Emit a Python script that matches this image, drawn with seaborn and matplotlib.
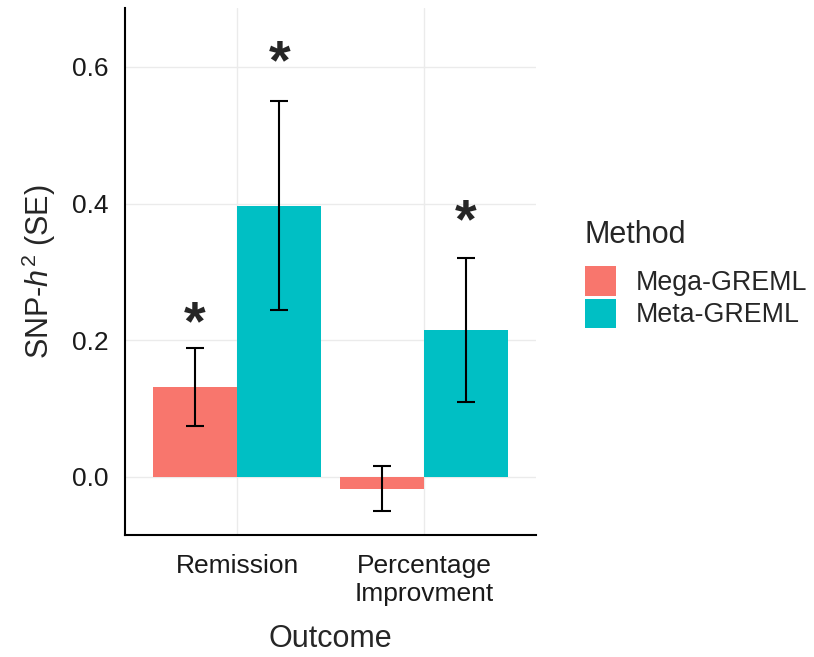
import seaborn as sns
import pandas as pd
import matplotlib.pyplot as plt
from matplotlib.patches import Patch

# Values
outcomes = ["Remission", "Percentage\nImprovment"]
methods = ["Mega-GREML", "Meta-GREML"]
h2_mega = [0.132, -0.017]
h2_meta = [0.397, 0.215]
se_mega = [0.057, 0.033]
se_meta = [0.153, 0.105]
# asterisk heights (None = no star)
star_mega = [0.24, None]
star_meta = [0.622, 0.39]

colors = ["#F8766D", "#00BFC4"]

df = pd.DataFrame({
    "Outcome": outcomes * 2,
    "Method": [methods[0]] * 2 + [methods[1]] * 2,
    "h2": h2_mega + h2_meta,
})

sns.set_style("white")
plt.rcParams["font.family"] = ["Liberation Sans", "DejaVu Sans"]
plt.rcParams["mathtext.fontset"] = "custom"
plt.rcParams["mathtext.rm"] = "Liberation Sans"
plt.rcParams["mathtext.it"] = "Liberation Sans:italic"

fig = plt.figure(figsize=(8.14, 6.57), dpi=100)
ax = fig.add_axes([0.1536, 0.1857, 0.505, 0.802])

sns.barplot(data=df, x="Outcome", y="h2", hue="Method", palette=colors,
            width=0.9, errorbar=None, saturation=1, ax=ax, legend=False,
            zorder=2)

star_size = 40
ses = [se_mega, se_meta]
stars = [star_mega, star_meta]
for cont, se, st in zip(ax.containers, ses, stars):
    for bar, e, s in zip(cont, se, st):
        bar.set_edgecolor("none")
        xc = bar.get_x() + bar.get_width() / 2
        yv = bar.get_y() + bar.get_height()
        ax.errorbar(xc, yv, yerr=e, color="black", capsize=6.5,
                    elinewidth=1.5, capthick=1.5, zorder=3)
        if s is not None:
            # glyph sits high in its box: shift down so the star is centred
            ax.annotate("*", (xc, s), xytext=(0, -0.23 * star_size),
                        textcoords="offset points", ha="center", va="center",
                        fontsize=star_size, fontweight="bold", zorder=4)

ax.set_xlim(-0.6, 1.6)
ax.set_ylim(-0.085, 0.686)
ax.set_yticks([0.0, 0.2, 0.4, 0.6])
ax.set_yticklabels(["0.0", "0.2", "0.4", "0.6"])
ax.grid(True, color="#EBEBEB", linewidth=1.0, zorder=0)
ax.set_axisbelow(True)
for side in ["top", "right"]:
    ax.spines[side].set_visible(False)
for side in ["left", "bottom"]:
    ax.spines[side].set_color("black")
    ax.spines[side].set_linewidth(1.5)
ax.tick_params(axis="both", direction="out", length=5, width=1.5,
               color="black", labelsize=19, labelcolor="#1a1a1a")
ax.tick_params(axis="x", pad=9)
ax.tick_params(axis="y", pad=7)
for lab in ax.get_xticklabels():
    lab.set_linespacing(1.2)

ax.set_xlabel("Outcome", fontsize=22, labelpad=13)
ax.set_ylabel("SNP-$\\it{h}^2$ (SE)", fontsize=22, labelpad=10)

handles = [Patch(facecolor=c, edgecolor="none") for c in colors]
leg = fig.legend(handles, methods, title="Method", loc="upper left",
                 bbox_to_anchor=(0.702, 0.686), frameon=False, fontsize=19.3,
                 title_fontsize=22, handlelength=1.17, handleheight=1.3,
                 handletextpad=0.72, labelspacing=0.1, borderpad=0)
leg._legend_box.align = "left"
leg._legend_box.sep = 12

plt.savefig("out.png", dpi=100)
